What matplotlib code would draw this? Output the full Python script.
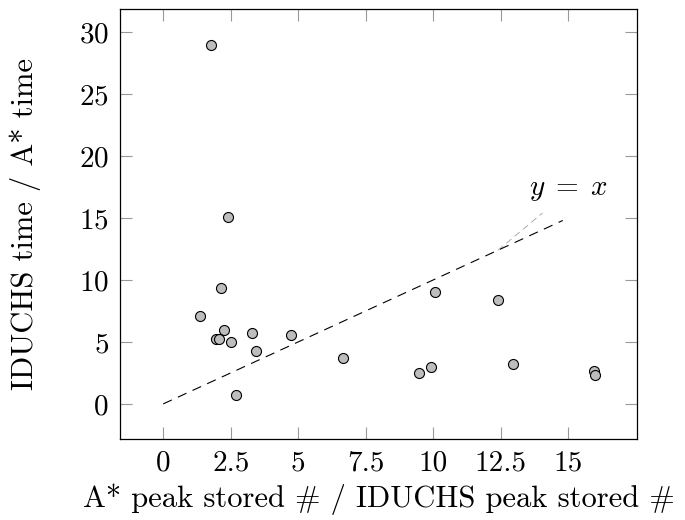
import matplotlib
matplotlib.use("Agg")
from matplotlib import pyplot as plt

# ratio data
x_ratio = [1.76, 2.41, 2.15, 1.36, 2.24, 3.30, 4.75, 1.95, 2.05, 2.50,
           3.42, 6.67, 9.48, 9.91, 10.07, 12.41, 12.95, 15.96, 15.99, 2.70]
y_ratio = [28.95, 15.1, 9.35, 7.12, 5.94, 5.75, 5.56, 5.2, 5.2, 5.02,
           4.27, 3.74, 2.53, 3.01, 9.0, 8.36, 3.23, 2.66, 2.34, 0.70]

ref_x = [0, 14.8]
ref_y = [0, 14.8]

xticks = [0, 2.5, 5, 7.5, 10, 12.5, 15]
xtick_labels = ["0", "2.5", "5", "7.5", "10", "12.5", "15"]
yticks = [0, 5, 10, 15, 20, 25, 30]

plt.rcParams["font.family"] = ["cmr10", "DejaVu Serif"]
plt.rcParams["mathtext.fontset"] = "cm"
plt.rcParams["axes.formatter.use_mathtext"] = True

fig = plt.figure(figsize=(6.85, 5.2), dpi=100)
ax = fig.add_axes([0.1752, 0.1558, 0.7548, 0.8262])

line, = ax.plot(ref_x, ref_y, color="black", lw=0.8, zorder=2)
line.set_dashes([8.5, 6])

ax.scatter(x_ratio, y_ratio, s=52, facecolor="#bdbdbd", edgecolor="black",
           linewidths=0.8, zorder=3)

# pin from the reference line to its label
pin, = ax.plot([12.4, 14.05], [12.4, 15.4], color="#a0a0a0", lw=0.6, zorder=1)
pin.set_dashes([8, 5])
ax.text(15.0, 17.3, r"$y\;=\;x$", fontsize=21, ha="center", va="center")

ax.set_xlim(-1.6, 17.55)
ax.set_ylim(-2.83, 31.83)
ax.set_xticks(xticks)
ax.set_xticklabels(xtick_labels)
ax.set_yticks(yticks)
ax.tick_params(direction="in", length=8.3, width=0.8, color="#999999",
               labelsize=21, top=True, right=True, pad=8)
for spine in ax.spines.values():
    spine.set_linewidth(0.9)
    spine.set_color("black")

ax.set_xlabel("A* peak stored # / IDUCHS peak stored #", fontsize=22, labelpad=5)
ax.set_ylabel("IDUCHS time / A* time", fontsize=22, labelpad=27)

fig.savefig("out.png", dpi=100)
